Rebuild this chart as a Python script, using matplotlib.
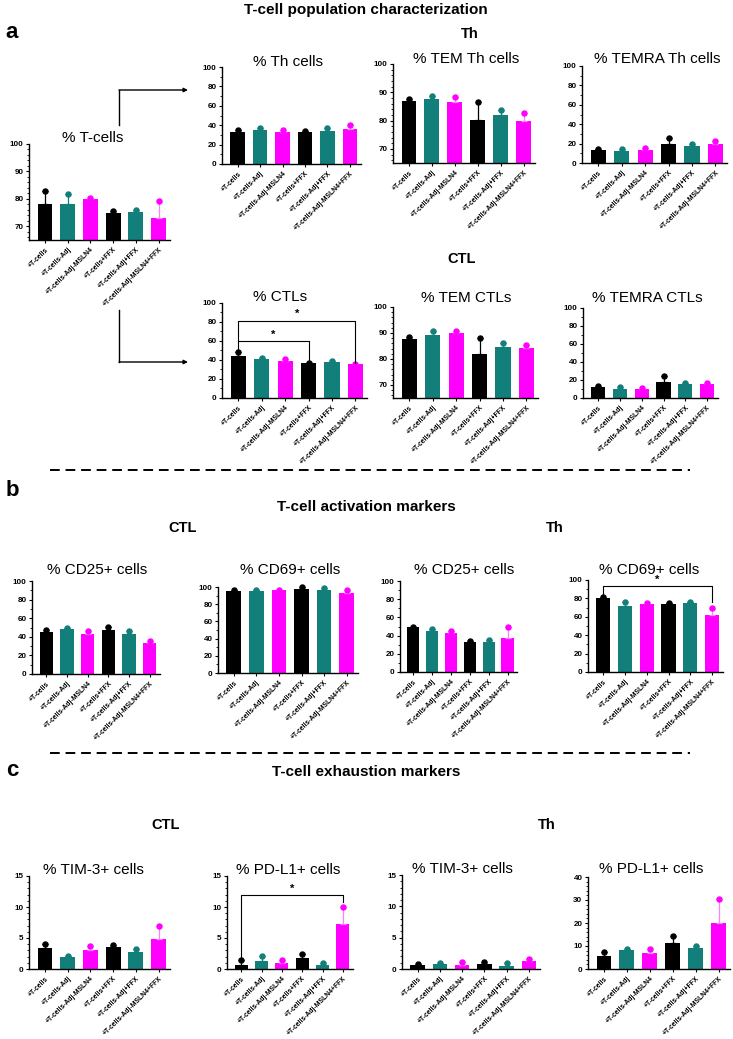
import matplotlib
matplotlib.use('Agg')
import matplotlib.pyplot as plt
from matplotlib.ticker import MultipleLocator
from matplotlib.lines import Line2D
from matplotlib.patches import FancyArrowPatch
import numpy as np

plt.rcParams['font.family'] = ['Liberation Sans', 'DejaVu Sans']

W, H = 733, 1039
fig = plt.figure(figsize=(W / 100, H / 100), dpi=100)

# ---------------- data ----------------
groups = ["+T-cells", "+T-cells-Adj", "+T-cells-Adj-MSLN4",
          "+T-cells+FFX", "+T-cells-Adj+FFX", "+T-cells-Adj-MSLN4+FFX"]
bar_colors = ["#000000", "#137F7A", "#FF00FF", "#000000", "#137F7A", "#FF00FF"]

t_cells_mean = [78.0, 78.3, 80.0, 75.0, 75.2, 73.0]
t_cells_sd = [5.0, 3.5, 0.2, 0.5, 0.6, 6.2]

th_mean = [33.5, 35.0, 33.5, 33.0, 34.5, 36.0]
th_sd = [1.5, 2.0, 1.5, 1.0, 2.5, 4.0]

tem_th_mean = [87.0, 87.8, 86.6, 80.2, 82.1, 79.8]
tem_th_sd = [0.8, 0.9, 1.8, 6.5, 1.6, 3.0]

temra_th_mean = [13.5, 12.5, 13.5, 19.5, 17.5, 19.5]
temra_th_sd = [1.0, 1.7, 2.0, 6.5, 2.5, 3.5]

ctl_mean = [44.5, 41.0, 38.5, 36.5, 38.0, 35.5]
ctl_sd = [4.0, 0.8, 2.5, 0.5, 1.0, 0.5]

tem_ctl_mean = [87.5, 89.3, 90.1, 81.8, 84.7, 84.1]
tem_ctl_sd = [0.8, 1.3, 0.7, 6.4, 1.5, 1.2]

temra_ctl_mean = [12.0, 10.5, 10.0, 17.5, 15.5, 16.0]
temra_ctl_sd = [1.0, 2.0, 1.0, 6.5, 1.5, 1.0]

cd25_ctl_mean = [45.0, 48.0, 43.0, 47.0, 43.0, 33.0]
cd25_ctl_sd = [2.0, 2.0, 3.5, 3.5, 3.0, 2.5]

cd69_ctl_mean = [95.0, 95.0, 96.5, 98.0, 96.5, 93.0]
cd69_ctl_sd = [2.0, 1.5, 0.5, 2.0, 2.5, 3.0]

cd25_th_mean = [49.0, 45.5, 42.5, 33.0, 32.5, 37.0]
cd25_th_sd = [1.0, 1.5, 3.0, 1.0, 2.5, 13.0]

cd69_th_mean = [80.0, 72.0, 74.0, 73.5, 75.5, 61.5]
cd69_th_sd = [2.0, 4.0, 1.5, 1.5, 1.0, 8.0]

tim3_ctl_mean = [3.4, 1.9, 3.1, 3.6, 2.8, 4.8]
tim3_ctl_sd = [0.6, 0.2, 0.6, 0.2, 0.5, 2.2]

pdl1_ctl_mean = [0.7, 1.3, 0.9, 1.8, 0.6, 7.2]
pdl1_ctl_sd = [0.8, 0.8, 0.5, 0.6, 0.3, 2.8]

tim3_th_mean = [0.65, 0.75, 0.7, 0.8, 0.5, 1.3]
tim3_th_sd = [0.2, 0.15, 0.45, 0.3, 0.4, 0.3]

pdl1_th_mean = [5.8, 8.2, 7.0, 11.2, 9.2, 20.0]
pdl1_th_sd = [1.7, 0.4, 1.8, 3.3, 0.6, 10.5]


# ---------------- helpers ----------------
def px_ax(x0, y0, x1, y1):
    return fig.add_axes([x0 / W, 1 - y1 / H, (x1 - x0) / W, (y1 - y0) / H])


def ftext(x, y, s, **kw):
    fig.text(x / W, 1 - y / H, s, ha=kw.pop('ha', 'center'), va=kw.pop('va', 'center'), **kw)


def bar_panel(box, title, title_xy, mean, sd, ylim, major, minor):
    ax = px_ax(*box)
    x = np.arange(len(groups))
    ax.bar(x, mean, width=0.65, color=bar_colors, zorder=2)
    for xi, m, s, c in zip(x, mean, sd, bar_colors):
        ec = c if c != "#FF00FF" else "#FF80FF"
        ax.errorbar(xi, m, yerr=[[0], [s]], color=ec, capsize=2, lw=0.9,
                    capthick=0.9, zorder=3)
        ax.plot(xi, m + s, 'o', ms=3.6, color=c, zorder=4, clip_on=False)
    ax.set_xlim(-0.7, 5.5)
    ax.set_ylim(*ylim)
    ax.yaxis.set_major_locator(MultipleLocator(major))
    ax.yaxis.set_minor_locator(MultipleLocator(minor))
    for sp in ['top', 'right']:
        ax.spines[sp].set_visible(False)
    for sp in ['left', 'bottom']:
        ax.spines[sp].set_linewidth(1.0)
    ax.set_xticks(x)
    ax.set_xticklabels(groups, rotation=45, ha='right', va='top',
                       rotation_mode='anchor', fontsize=4.9, fontweight='bold')
    ax.tick_params(axis='x', length=2.5, width=0.8, pad=2)
    ax.tick_params(axis='y', which='major', labelsize=5.8, length=2.5, width=0.8, pad=1.5)
    ax.tick_params(axis='y', which='minor', length=1.5, width=0.6)
    for lab in ax.get_yticklabels():
        lab.set_fontweight('bold')
    ax.patch.set_alpha(0)
    ftext(title_xy[0], title_xy[1], title, fontsize=11)
    return ax


def bracket(ax, x1, x2, y, y1_low, y2_low, star_y):
    ax.plot([x1, x1, x2, x2], [y1_low, y, y, y2_low], color='black', lw=0.8,
            zorder=5, clip_on=False)
    ax.text((x1 + x2) / 2, star_y, '*', ha='center', va='center', fontsize=8,
            fontweight='bold', clip_on=False)


# ---------------- section a ----------------
ftext(366, 10, "T-cell population characterization", fontsize=11, fontweight='bold')
ftext(12, 33, "a", fontsize=16, fontweight='bold')
ftext(470, 34, "Th", fontsize=10.5, fontweight='bold')
ftext(462, 259, "CTL", fontsize=10.5, fontweight='bold')

bar_panel((29, 144, 170, 240), "% T-cells", (93, 138), t_cells_mean, t_cells_sd, (65, 100), 10, 2)
bar_panel((222, 67, 361, 164), "% Th cells", (288, 62), th_mean, th_sd, (0, 100), 20, 10)
bar_panel((393, 64, 535, 163), "% TEM Th cells", (466, 59), tem_th_mean, tem_th_sd, (65, 100), 10, 2)
bar_panel((582, 66, 727, 163), "% TEMRA Th cells", (657, 59), temra_th_mean, temra_th_sd, (0, 100), 20, 10)

ax_ctl = bar_panel((222, 303, 367, 398), "% CTLs", (280, 297), ctl_mean, ctl_sd, (0, 100), 20, 10)
bracket(ax_ctl, 0, 3, 60, 50, 38, 67)
bracket(ax_ctl, 0, 5, 81.5, 60, 37, 89)
bar_panel((393, 307, 538, 398), "% TEM CTLs", (466, 298), tem_ctl_mean, tem_ctl_sd, (65, 100), 10, 2)
bar_panel((583, 308, 718, 398), "% TEMRA CTLs", (647, 298), temra_ctl_mean, temra_ctl_sd, (0, 100), 20, 10)

# arrows
for (yv0, yv1) in [(125, 90), (310, 362)]:
    fig.add_artist(Line2D([119 / W, 119 / W], [1 - yv0 / H, 1 - yv1 / H], color='black', lw=1.0))
    fig.add_artist(FancyArrowPatch((119 / W, 1 - yv1 / H), (188 / W, 1 - yv1 / H),
                                   transform=fig.transFigure, arrowstyle='-|>',
                                   mutation_scale=6, color='black', lw=1.0,
                                   shrinkA=0, shrinkB=0))

# dashed separators
for yy in [470, 753]:
    fig.add_artist(Line2D([50 / W, 690 / W], [1 - yy / H, 1 - yy / H], color='black',
                          lw=1.4, ls=(0, (5, 3))))

# ---------------- section b ----------------
ftext(12, 490, "b", fontsize=16, fontweight='bold')
ftext(366, 507, "T-cell activation markers", fontsize=11, fontweight='bold')
ftext(183, 528, "CTL", fontsize=10.5, fontweight='bold')
ftext(555, 528, "Th", fontsize=10.5, fontweight='bold')

bar_panel((32, 581, 160, 674), "% CD25+ cells", (97, 570), cd25_ctl_mean, cd25_ctl_sd, (0, 100), 20, 10)
bar_panel((218, 587, 358, 673), "% CD69+ cells", (290, 570), cd69_ctl_mean, cd69_ctl_sd, (0, 100), 20, 10)
bar_panel((400, 581, 517, 672), "% CD25+ cells", (464, 570), cd25_th_mean, cd25_th_sd, (0, 100), 20, 10)
ax_cd69 = bar_panel((588, 580, 723, 672), "% CD69+ cells", (649, 570), cd69_th_mean, cd69_th_sd, (0, 100), 20, 10)
bracket(ax_cd69, 0, 5, 94, 84, 76, 100)

# ---------------- section c ----------------
ftext(12, 770, "c", fontsize=16, fontweight='bold')
ftext(366, 772, "T-cell exhaustion markers", fontsize=11, fontweight='bold')
ftext(166, 825, "CTL", fontsize=10.5, fontweight='bold')
ftext(547, 825, "Th", fontsize=10.5, fontweight='bold')

bar_panel((29, 876, 170, 969), "% TIM-3+ cells", (93, 870), tim3_ctl_mean, tim3_ctl_sd, (0, 15), 5, 1)
ax_pd = bar_panel((227, 876, 353, 969), "% PD-L1+ cells", (288, 870), pdl1_ctl_mean, pdl1_ctl_sd, (0, 15), 5, 1)
bracket(ax_pd, 0, 5, 11.9, 2.0, 10.8, 12.9)
bar_panel((402, 875, 540, 969), "% TIM-3+ cells", (462, 869), tim3_th_mean, tim3_th_sd, (0, 15), 5, 1)
bar_panel((588, 877, 730, 969), "% PD-L1+ cells", (651, 869), pdl1_th_mean, pdl1_th_sd, (0, 40), 10, 2)

fig.savefig("out.png", dpi=100, facecolor='white')
